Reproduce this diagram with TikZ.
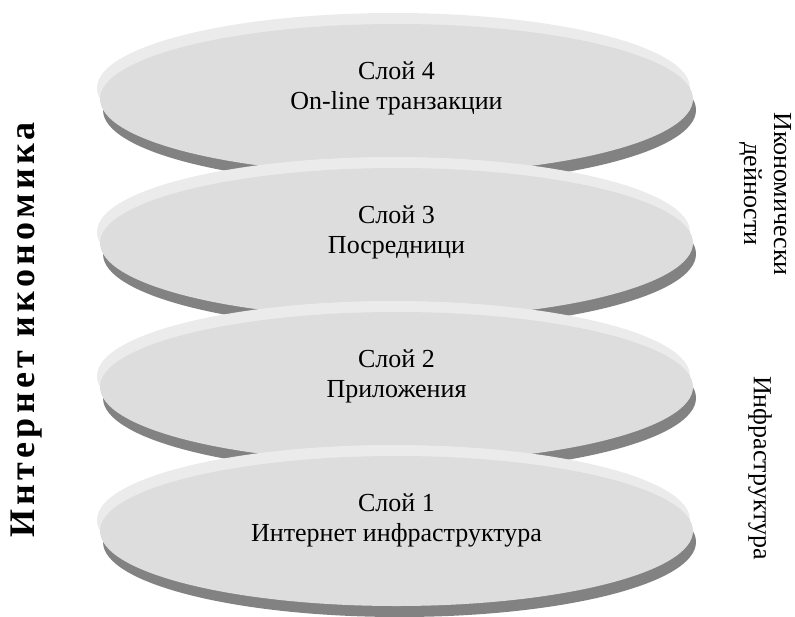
\documentclass[tikz,border=0pt]{standalone}
\usepackage{fontspec}
\setmainfont{Liberation Serif}
\usepackage{tikz}
\usetikzlibrary{positioning}
\definecolor{discface}{gray}{0.867}
\definecolor{discrim}{gray}{0.922}
\definecolor{discedge}{gray}{0.51}
\tikzset{
  layertext/.style={align=center, font=\fontsize{26}{30}\selectfont},
  sidetext/.style={align=center, rotate=-90, font=\fontsize{26}{30}\selectfont},
  titletext/.style={rotate=90, font=\fontsize{36}{40}\selectfont\bfseries\addfontfeature{LetterSpace=12}}
}

\begin{document}
\begin{tikzpicture}[x=1pt,y=-1pt]
  \def\cx{396.5} % centre of the discs
  \def\rx{296.5} % half width
  \def\ry{75}    % half height
  \useasboundingbox (0,0) rectangle (795,616);

  % Discs, top to bottom
  \foreach \n/\lbl in {4/{On-line транзакции},3/{Посредници},2/{Приложения},1/{Интернет инфраструктура}}{
    \pgfmathsetmacro\cy{99+(4-\n)*144}
    \fill[discedge] (\cx+3,\cy+11) ellipse ({\rx} and {\ry});
    \fill[discrim] (\cx-3,\cy-11) ellipse ({\rx} and {\ry});
    \fill[discface] (\cx,\cy) ellipse ({\rx} and {\ry});
    \node[layertext] (layer\n) at (\cx,\cy-11) {Слой \n\\\lbl};
  }

  % Side labels
  \node[titletext] (economy) at (27,330) {Интернет икономика};
  \node[sidetext] (activities) at (765,194) {Икономически\\дейности};
  \node[sidetext] (infra) at (760,468) {Инфраструктура};
\end{tikzpicture}
\end{document}
